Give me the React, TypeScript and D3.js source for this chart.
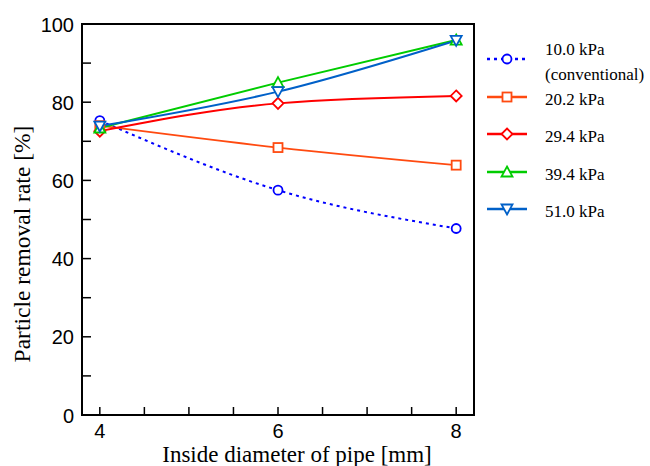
import * as d3 from "d3";
import React from "react";

// pipe diameters (mm)
const diameters = [4, 6, 8];
const seriesNames = ["10.0 kPa", "20.2 kPa", "29.4 kPa", "39.4 kPa", "51.0 kPa"];
const rate10 = [75.3, 57.5, 47.7];
const rate20 = [74.0, 68.4, 63.9];
const rate29 = [72.6, 79.7, 81.6];
const rate39 = [73.4, 85.0, 95.9];
const rate51 = [73.9, 82.7, 95.8];
const xTickLabels = [4, 6, 8];
const yTickLabels = [0, 20, 40, 60, 80, 100];

const W = 650;
const H = 466;
const SERIF = "'Liberation Serif', 'Times New Roman', serif";
const SANS = "'Liberation Sans', Arial, sans-serif";

const x = d3.scaleLinear().domain([3.8, 8.2]).range([82, 474]);
const y = d3.scaleLinear().domain([0, 100]).range([415, 24]);

const styles = [
  { color: "#0000ff", dash: "3,4", shape: "circle", w: 2 },
  { color: "#ff4a10", dash: null, shape: "square", w: 1.8 },
  { color: "#ff0000", dash: null, shape: "diamond", w: 2 },
  { color: "#00cc00", dash: null, shape: "up", w: 2 },
  { color: "#0060c8", dash: null, shape: "down", w: 2 },
];

function Marker({ cx, cy, shape, color }: any) {
  const s = 4.5;
  const common = { fill: "white", stroke: color, strokeWidth: 1.8 };
  if (shape === "circle") return <circle cx={cx} cy={cy} r={s} {...common} />;
  if (shape === "square")
    return <rect x={cx - s} y={cy - s} width={2 * s} height={2 * s} {...common} />;
  if (shape === "diamond")
    return (
      <path
        d={`M${cx},${cy - s - 1}L${cx + s + 1},${cy}L${cx},${cy + s + 1}L${cx - s - 1},${cy}Z`}
        {...common}
      />
    );
  if (shape === "up")
    return <path d={`M${cx},${cy - s - 1}L${cx + s + 1},${cy + s}L${cx - s - 1},${cy + s}Z`} {...common} />;
  return <path d={`M${cx},${cy + s + 1}L${cx + s + 1},${cy - s}L${cx - s - 1},${cy - s}Z`} {...common} />;
}

export default function App() {
  const allSeries = [rate10, rate20, rate29, rate39, rate51];
  const line = d3
    .line<number>()
    .x((_, i) => x(diameters[i]))
    .y((d) => y(d))
    .curve(d3.curveMonotoneX);

  const xMinor = d3.range(4, 8.01, 0.5);
  const yMinor = d3.range(0, 100.1, 10);
  const legendY = [59, 97, 134, 172, 209];

  return (
    <svg
      width={W}
      height={H}
      style={{ position: "absolute", left: 0, top: 0, background: "white" }}
    >
      {/* plot box */}
      <rect x={82} y={24} width={392} height={391} fill="none" stroke="black" strokeWidth={2} />

      {xMinor.map((t) => (
        <line key={"xt" + t} x1={x(t)} x2={x(t)} y1={415} y2={407} stroke="black" strokeWidth={1.5} />
      ))}
      {yMinor.map((t) => (
        <line key={"yt" + t} x1={82} x2={91} y1={y(t)} y2={y(t)} stroke="black" strokeWidth={1.5} />
      ))}
      {xTickLabels.map((t) => (
        <text key={"xl" + t} x={x(t)} y={438} textAnchor="middle" style={{ fontFamily: SANS, fontSize: 20 }}>
          {t}
        </text>
      ))}
      {yTickLabels.map((t) => (
        <text key={"yl" + t} x={74} y={y(t) + 7.5} textAnchor="end" style={{ fontFamily: SANS, fontSize: 20 }}>
          {t}
        </text>
      ))}

      <text x={297} y={462} textAnchor="middle" style={{ fontFamily: SERIF, fontSize: 23 }}>
        Inside diameter of pipe [mm]
      </text>
      <text
        transform="translate(30,244) rotate(-90)"
        textAnchor="middle"
        style={{ fontFamily: SERIF, fontSize: 23.5 }}
      >
        Particle removal rate [%]
      </text>

      {allSeries.map((s, k) => (
        <path
          key={"ln" + k}
          d={line(s) || ""}
          fill="none"
          stroke={styles[k].color}
          strokeWidth={styles[k].w}
          strokeDasharray={styles[k].dash || undefined}
        />
      ))}
      {allSeries.map((s, k) =>
        s.map((v, i) => (
          <Marker key={"m" + k + i} cx={x(diameters[i])} cy={y(v)} shape={styles[k].shape} color={styles[k].color} />
        ))
      )}

      {seriesNames.map((name, k) => (
        <g key={"lg" + k}>
          <line
            x1={487}
            x2={527}
            y1={legendY[k]}
            y2={legendY[k]}
            stroke={styles[k].color}
            strokeWidth={styles[k].w + 0.5}
            strokeDasharray={styles[k].dash || undefined}
          />
          <Marker cx={507} cy={legendY[k]} shape={styles[k].shape} color={styles[k].color} />
          <text x={545} y={k === 0 ? 55 : legendY[k] + 8} style={{ fontFamily: SERIF, fontSize: 17 }}>
            {name}
          </text>
        </g>
      ))}
      <text x={545} y={80} style={{ fontFamily: SERIF, fontSize: 17 }}>
        (conventional)
      </text>
    </svg>
  );
}
